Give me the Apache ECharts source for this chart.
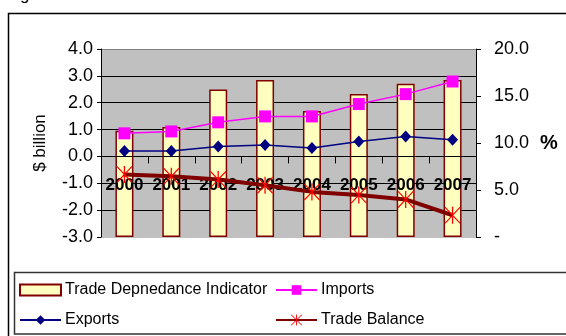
<!DOCTYPE html>
<html>
<head>
<meta charset="utf-8">
<script src="https://cdn.jsdelivr.net/npm/echarts@6/dist/echarts.min.js"></script>
<style>
  html, body { margin: 0; padding: 0; background: #fff; }
  #chart { width: 566px; height: 336px; }
</style>
</head>
<body>
<div id="chart"></div>
<script>
// values
const years = ['2000', '2001', '2002', '2003', '2004', '2005', '2006', '2007'];
const tradeDependence = [11.3, 11.7, 15.7, 16.7, 13.4, 15.2, 16.3, 16.7]; // %
const imports = [0.86, 0.93, 1.27, 1.49, 1.49, 1.95, 2.32, 2.79];        // $ billion
const exports = [0.20, 0.20, 0.37, 0.43, 0.31, 0.56, 0.74, 0.62];
const tradeBalance = [-0.67, -0.74, -0.86, -1.07, -1.32, -1.44, -1.60, -2.19];

const font = 'Liberation Sans, Arial, sans-serif';
const asterisk = 'path://M46 0L54 0L54 100L46 100Z M0 5L5 0L100 95L95 100Z M95 0L100 5L5 100L0 95Z';

const legendAt = (name, left, top, w, h, icon) => ({
  data: [icon ? { name: name, icon: icon } : name],
  left: left,
  top: top,
  orient: 'horizontal',
  itemWidth: w,
  itemHeight: h,
  itemGap: 0,
  padding: 0,
  textStyle: { fontFamily: font, fontSize: 16, color: '#000', padding: [0, 0, 0, -1] }
});

const chart = echarts.init(document.getElementById('chart'));
chart.setOption({
  animation: false,
  textStyle: { fontFamily: font },
  graphic: [
    { type: 'text', left: 20, top: -13, style: { text: 'g', font: '17px ' + font, fill: '#000' } },
    { type: 'rect', shape: { x: 8.5, y: 13.5, width: 600, height: 400 }, style: { fill: 'none', stroke: '#000', lineWidth: 1.5 }, z: -1 },
    { type: 'rect', shape: { x: 14.5, y: 272.5, width: 600, height: 61.5 }, style: { fill: 'none', stroke: '#333', lineWidth: 1.5 }, z: -1 }
  ],
  legend: [
    legendAt('Trade Depnedance Indicator', 19, 282, 41, 11, 'rect'),
    legendAt('Imports', 275, 282, 41, 12),
    legendAt('Exports', 19, 312, 41, 12),
    legendAt('Trade Balance', 275, 312, 41, 14)
  ],
  grid: {
    left: 101, right: 90, top: 49, bottom: 99,
    show: true, backgroundColor: '#c0c0c0', borderWidth: 0
  },
  xAxis: {
    type: 'category',
    data: years,
    z: 10,
    axisLine: { onZero: true, lineStyle: { color: '#000', width: 1 } },
    axisTick: { show: true, interval: 0, length: 7, lineStyle: { color: '#000', width: 1 } },
    axisLabel: { interval: 0, fontFamily: font, fontSize: 17, fontWeight: 'bold', color: '#000', margin: -60 }
  },
  yAxis: [
    {
      type: 'value', min: -3, max: 4, interval: 1,
      name: '$ billion', nameLocation: 'middle', nameGap: 52,
      nameTextStyle: { fontFamily: font, fontSize: 17, color: '#000' },
      axisLine: { show: true, lineStyle: { color: '#000' } },
      axisTick: { show: true, length: 4, lineStyle: { color: '#000' } },
      axisLabel: { fontFamily: font, fontSize: 18, color: '#000', margin: 8, formatter: v => v.toFixed(1) },
      splitLine: { show: true, lineStyle: { color: ['#c0c0c0', '#000', '#000', '#000', '#000', '#000', '#000', '#808080'], width: 1 } }
    },
    {
      type: 'value', min: 0, max: 20, interval: 5,
      name: '%', nameLocation: 'middle', nameGap: 64, nameRotate: 0,
      nameTextStyle: { fontFamily: font, fontSize: 20, fontWeight: 'bold', color: '#000' },
      axisLine: { show: true, lineStyle: { color: '#000' } },
      axisTick: { show: true, length: 5, lineStyle: { color: '#000' } },
      axisLabel: { fontFamily: font, fontSize: 18, color: '#000', margin: 18, formatter: v => v === 0 ? '-' : v.toFixed(1) },
      splitLine: { show: false }
    }
  ],
  series: [
    {
      name: 'Trade Depnedance Indicator',
      type: 'bar',
      yAxisIndex: 1,
      data: tradeDependence,
      barWidth: 18,
      z: 2,
      itemStyle: { color: '#ffffc0', borderColor: '#800000', borderWidth: 1.5 }
    },
    {
      name: 'Imports',
      type: 'line',
      data: imports,
      symbol: 'rect',
      symbolSize: 12,
      z: 11,
      lineStyle: { color: '#ff00ff', width: 1.5 },
      itemStyle: { color: '#ff00ff' }
    },
    {
      name: 'Exports',
      type: 'line',
      data: exports,
      symbol: 'diamond',
      symbolSize: [11, 12],
      z: 11,
      lineStyle: { color: '#000080', width: 1.5 },
      itemStyle: { color: '#000080' }
    },
    {
      name: 'Trade Balance',
      type: 'line',
      data: tradeBalance,
      symbol: asterisk,
      symbolSize: [16, 17],
      z: 12,
      lineStyle: { color: '#800000', width: 4 },
      itemStyle: { color: '#ff0000' }
    }
  ]
});
</script>
</body>
</html>
